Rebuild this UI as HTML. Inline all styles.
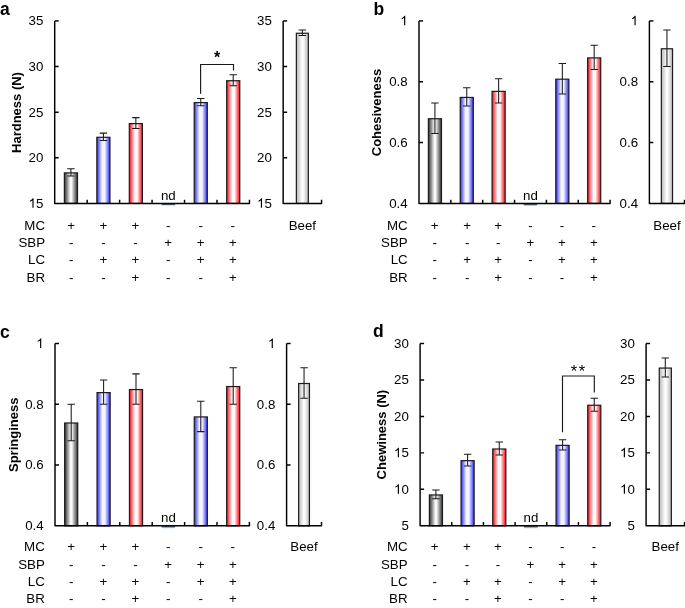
<!DOCTYPE html>
<html><head><meta charset="utf-8"><title>Texture profile</title>
<style>
html,body{margin:0;padding:0;background:#fff;}
body{width:685px;height:608px;overflow:hidden;}
svg{display:block;will-change:transform;}
text{font-family:"Liberation Sans", sans-serif;fill:#000;}
.tk{font-size:13.3px;}
.yl{font-size:13px;font-weight:bold;}
.let{font-size:17.5px;font-weight:bold;}
.ast{font-size:16px;font-weight:bold;}
.ast2{font-size:16.5px;}
.ax{fill:none;stroke:#000;stroke-width:1.45;stroke-linejoin:round;stroke-linecap:butt;}
.bar{stroke:#1c1c1c;stroke-width:1.2;}
.err{fill:none;stroke:#1a1a1a;stroke-width:1.05;}
.brk{fill:none;stroke:#1a1a1a;stroke-width:1.15;}
.ndl{stroke:#8fb4e0;stroke-width:0.9;}
.ndl2{stroke:#c8d4e0;stroke-width:0.9;}
.ndd{stroke:#1c2c44;stroke-width:0.9;}
</style></head>
<body>
<svg width="685" height="608" viewBox="0 0 685 608">
<defs>
<path id="one" d="M763 0L583 0L583 1147Q518 1085 411 1022Q304 959 219 928L219 1102Q370 1173 483 1274Q596 1375 643 1466L763 1466Z" fill="#000"/>
<linearGradient id="gk" x1="0" x2="1" y1="0" y2="0">
 <stop offset="0" stop-color="#2e2e2e"/><stop offset="0.1" stop-color="#5a5a5a"/><stop offset="0.45" stop-color="#f8f8f8"/>
 <stop offset="0.55" stop-color="#f8f8f8"/><stop offset="0.9" stop-color="#5a5a5a"/><stop offset="1" stop-color="#2e2e2e"/>
</linearGradient>
<linearGradient id="gb" x1="0" x2="1" y1="0" y2="0">
 <stop offset="0" stop-color="#3030c8"/><stop offset="0.1" stop-color="#5c5cff"/><stop offset="0.4" stop-color="#f5f5ff"/>
 <stop offset="0.6" stop-color="#f5f5ff"/><stop offset="0.9" stop-color="#5c5cff"/><stop offset="1" stop-color="#3030c8"/>
</linearGradient>
<linearGradient id="gr" x1="0" x2="1" y1="0" y2="0">
 <stop offset="0" stop-color="#d8202c"/><stop offset="0.1" stop-color="#ff3e4a"/><stop offset="0.42" stop-color="#fff8f8"/>
 <stop offset="0.6" stop-color="#fff8f8"/><stop offset="0.9" stop-color="#ff3e4a"/><stop offset="1" stop-color="#d8202c"/>
</linearGradient>
<linearGradient id="gg" x1="0" x2="1" y1="0" y2="0">
 <stop offset="0" stop-color="#bcbcbc"/><stop offset="0.12" stop-color="#c8c8c8"/><stop offset="0.45" stop-color="#fbfbfb"/>
 <stop offset="0.58" stop-color="#fbfbfb"/><stop offset="0.9" stop-color="#c6c6c6"/><stop offset="1" stop-color="#bcbcbc"/>
</linearGradient>
</defs>
<rect width="685" height="608" fill="#fff"/>
<text x="0" y="15" class="let">a</text>
<text transform="translate(20.75 112.5) rotate(-90)" x="0" y="0" class="yl" text-anchor="middle">Hardness (N)</text>
<text x="43.4" y="25.3" class="tk" text-anchor="end">35</text>
<text x="43.4" y="70.93" class="tk" text-anchor="end">30</text>
<text x="43.4" y="116.55" class="tk" text-anchor="end">25</text>
<text x="43.4" y="162.18" class="tk" text-anchor="end">20</text>
<text x="43.4" y="207.8" class="tk" text-anchor="end">5</text><use href="#one" transform="translate(28.61 207.8) scale(0.0064941 -0.0064941)"/>
<rect x="64.38" y="172.88" width="13.1" height="30.52" fill="url(#gk)" class="bar"/>
<path d="M70.93 168.73V176.03M67.23 168.73H74.63M67.23 176.03H74.63" class="err"/>
<rect x="96.84" y="137.29" width="13.1" height="66.11" fill="url(#gb)" class="bar"/>
<path d="M103.39 133.14V140.44M99.69 133.14H107.09M99.69 140.44H107.09" class="err"/>
<rect x="129.3" y="123.6" width="13.1" height="79.8" fill="url(#gr)" class="bar"/>
<path d="M135.85 117.62V128.58M132.15 117.62H139.55M132.15 128.58H139.55" class="err"/>
<path d="M161.7 205.3H174.9" class="ndl2"/>
<path d="M161.5 204.3H175.1" class="ndd"/>
<text x="168.3" y="199.8" class="tk" text-anchor="middle">nd</text>
<rect x="194.21" y="102.61" width="13.1" height="100.79" fill="url(#gb)" class="bar"/>
<path d="M200.76 98.46V105.76M197.06 98.46H204.46M197.06 105.76H204.46" class="err"/>
<rect x="226.67" y="80.71" width="13.1" height="122.69" fill="url(#gr)" class="bar"/>
<path d="M233.22 74.74V85.69M229.52 74.74H236.92M229.52 85.69H236.92" class="err"/>
<path d="M54.7 20.9 V203.4 H249.45 V199.7" class="ax"/>
<path d="M54.7 20.9 H58.7" class="ax"/>
<path d="M54.7 66.53H58.7M54.7 112.15H58.7M54.7 157.78H58.7M87.16 203.4V199.7M119.62 203.4V199.7M152.07 203.4V199.7M184.53 203.4V199.7M216.99 203.4V199.7" class="ax"/>
<text x="271.85" y="25.3" class="tk" text-anchor="end">35</text>
<text x="271.85" y="70.93" class="tk" text-anchor="end">30</text>
<text x="271.85" y="116.55" class="tk" text-anchor="end">25</text>
<text x="271.85" y="162.18" class="tk" text-anchor="end">20</text>
<text x="271.85" y="207.8" class="tk" text-anchor="end">5</text><use href="#one" transform="translate(257.06 207.8) scale(0.0064941 -0.0064941)"/>
<rect x="296.35" y="33.26" width="12" height="170.14" fill="url(#gg)" class="bar"/>
<path d="M302.35 30.03V35.5M298.65 30.03H306.05M298.65 35.5H306.05" class="err"/>
<path d="M283.15 20.9 V203.4 H321.55 V199.7" class="ax"/>
<path d="M283.15 20.9 H287.15" class="ax"/>
<path d="M283.15 66.53H287.15M283.15 112.15H287.15M283.15 157.78H287.15" class="ax"/>
<text x="302.35" y="229.6" class="tk" text-anchor="middle">Beef</text>
<path d="M200.6 93.8V64.5H233.5V70.6" class="brk"/>
<text x="217.05" y="63.4" class="ast" text-anchor="middle">*</text>
<text x="45" y="229.6" class="tk" text-anchor="end">MC</text>
<text x="71.1" y="229.6" class="tk" text-anchor="middle">+</text>
<text x="103.5" y="229.6" class="tk" text-anchor="middle">+</text>
<text x="135.5" y="229.6" class="tk" text-anchor="middle">+</text>
<text x="168.2" y="229.6" class="tk" text-anchor="middle">-</text>
<text x="200.6" y="229.6" class="tk" text-anchor="middle">-</text>
<text x="232.8" y="229.6" class="tk" text-anchor="middle">-</text>
<text x="45" y="246.8" class="tk" text-anchor="end">SBP</text>
<text x="71.1" y="246.8" class="tk" text-anchor="middle">-</text>
<text x="103.5" y="246.8" class="tk" text-anchor="middle">-</text>
<text x="135.5" y="246.8" class="tk" text-anchor="middle">-</text>
<text x="168.2" y="246.8" class="tk" text-anchor="middle">+</text>
<text x="200.6" y="246.8" class="tk" text-anchor="middle">+</text>
<text x="232.8" y="246.8" class="tk" text-anchor="middle">+</text>
<text x="45" y="263.9" class="tk" text-anchor="end">LC</text>
<text x="71.1" y="263.9" class="tk" text-anchor="middle">-</text>
<text x="103.5" y="263.9" class="tk" text-anchor="middle">+</text>
<text x="135.5" y="263.9" class="tk" text-anchor="middle">+</text>
<text x="168.2" y="263.9" class="tk" text-anchor="middle">-</text>
<text x="200.6" y="263.9" class="tk" text-anchor="middle">+</text>
<text x="232.8" y="263.9" class="tk" text-anchor="middle">+</text>
<text x="45" y="281.7" class="tk" text-anchor="end">BR</text>
<text x="71.1" y="281.7" class="tk" text-anchor="middle">-</text>
<text x="103.5" y="281.7" class="tk" text-anchor="middle">-</text>
<text x="135.5" y="281.7" class="tk" text-anchor="middle">+</text>
<text x="168.2" y="281.7" class="tk" text-anchor="middle">-</text>
<text x="200.6" y="281.7" class="tk" text-anchor="middle">-</text>
<text x="232.8" y="281.7" class="tk" text-anchor="middle">+</text>
<text x="373.5" y="14.6" class="let">b</text>
<text transform="translate(381.4 112.5) rotate(-90)" x="0" y="0" class="yl" text-anchor="middle">Cohesiveness</text>
<use href="#one" transform="translate(400.3 25.3) scale(0.0064941 -0.0064941)"/>
<text x="407.7" y="86.13" class="tk" text-anchor="end">0.8</text>
<text x="407.7" y="146.97" class="tk" text-anchor="end">0.6</text>
<text x="407.7" y="207.8" class="tk" text-anchor="end">0.4</text>
<rect x="428.38" y="118.73" width="13.1" height="84.67" fill="url(#gk)" class="bar"/>
<path d="M434.93 103.02V133.44M431.23 103.02H438.62M431.23 133.44H438.62" class="err"/>
<rect x="460.22" y="97.44" width="13.1" height="105.96" fill="url(#gb)" class="bar"/>
<path d="M466.77 87.82V106.07M463.07 87.82H470.47M463.07 106.07H470.47" class="err"/>
<rect x="492.07" y="91.36" width="13.1" height="112.04" fill="url(#gr)" class="bar"/>
<path d="M498.62 78.69V103.03M494.93 78.69H502.32M494.93 103.03H502.32" class="err"/>
<path d="M523.88 205.3H537.08" class="ndl"/>
<path d="M523.68 204.3H537.27" class="ndd"/>
<text x="530.48" y="199.8" class="tk" text-anchor="middle">nd</text>
<rect x="555.78" y="79.19" width="13.1" height="124.21" fill="url(#gb)" class="bar"/>
<path d="M562.33 63.48V93.9M558.62 63.48H566.03M558.62 93.9H566.03" class="err"/>
<rect x="587.63" y="57.9" width="13.1" height="145.5" fill="url(#gr)" class="bar"/>
<path d="M594.18 45.23V69.57M590.48 45.23H597.88M590.48 69.57H597.88" class="err"/>
<path d="M419 20.9 V203.4 H610.1 V199.7" class="ax"/>
<path d="M419 20.9 H423" class="ax"/>
<path d="M419 81.73H423M419 142.57H423M450.85 203.4V199.7M482.7 203.4V199.7M514.55 203.4V199.7M546.4 203.4V199.7M578.25 203.4V199.7" class="ax"/>
<use href="#one" transform="translate(630.7 25.3) scale(0.0064941 -0.0064941)"/>
<text x="638.1" y="86.13" class="tk" text-anchor="end">0.8</text>
<text x="638.1" y="146.97" class="tk" text-anchor="end">0.6</text>
<text x="638.1" y="207.8" class="tk" text-anchor="end">0.4</text>
<rect x="661.35" y="48.78" width="11.2" height="154.62" fill="url(#gg)" class="bar"/>
<path d="M666.95 30.03V66.52M663.25 30.03H670.65M663.25 66.52H670.65" class="err"/>
<path d="M649.4 20.9 V203.4 H684.5 V199.7" class="ax"/>
<path d="M649.4 20.9 H653.4" class="ax"/>
<path d="M649.4 81.73H653.4M649.4 142.57H653.4" class="ax"/>
<text x="666.95" y="229.6" class="tk" text-anchor="middle">Beef</text>
<text x="407.7" y="229.6" class="tk" text-anchor="end">MC</text>
<text x="434.7" y="229.6" class="tk" text-anchor="middle">+</text>
<text x="467.1" y="229.6" class="tk" text-anchor="middle">+</text>
<text x="498.2" y="229.6" class="tk" text-anchor="middle">+</text>
<text x="530.4" y="229.6" class="tk" text-anchor="middle">-</text>
<text x="561.9" y="229.6" class="tk" text-anchor="middle">-</text>
<text x="593.8" y="229.6" class="tk" text-anchor="middle">-</text>
<text x="407.7" y="246.8" class="tk" text-anchor="end">SBP</text>
<text x="434.7" y="246.8" class="tk" text-anchor="middle">-</text>
<text x="467.1" y="246.8" class="tk" text-anchor="middle">-</text>
<text x="498.2" y="246.8" class="tk" text-anchor="middle">-</text>
<text x="530.4" y="246.8" class="tk" text-anchor="middle">+</text>
<text x="561.9" y="246.8" class="tk" text-anchor="middle">+</text>
<text x="593.8" y="246.8" class="tk" text-anchor="middle">+</text>
<text x="407.7" y="263.9" class="tk" text-anchor="end">LC</text>
<text x="434.7" y="263.9" class="tk" text-anchor="middle">-</text>
<text x="467.1" y="263.9" class="tk" text-anchor="middle">+</text>
<text x="498.2" y="263.9" class="tk" text-anchor="middle">+</text>
<text x="530.4" y="263.9" class="tk" text-anchor="middle">-</text>
<text x="561.9" y="263.9" class="tk" text-anchor="middle">+</text>
<text x="593.8" y="263.9" class="tk" text-anchor="middle">+</text>
<text x="407.7" y="281.7" class="tk" text-anchor="end">BR</text>
<text x="434.7" y="281.7" class="tk" text-anchor="middle">-</text>
<text x="467.1" y="281.7" class="tk" text-anchor="middle">-</text>
<text x="498.2" y="281.7" class="tk" text-anchor="middle">+</text>
<text x="530.4" y="281.7" class="tk" text-anchor="middle">-</text>
<text x="561.9" y="281.7" class="tk" text-anchor="middle">-</text>
<text x="593.8" y="281.7" class="tk" text-anchor="middle">+</text>
<text x="0" y="337.8" class="let">c</text>
<text transform="translate(17.9 434.8) rotate(-90)" x="0" y="0" class="yl" text-anchor="middle">Springiness</text>
<use href="#one" transform="translate(36.3 347.9) scale(0.0064941 -0.0064941)"/>
<text x="43.7" y="408.67" class="tk" text-anchor="end">0.8</text>
<text x="43.7" y="469.43" class="tk" text-anchor="end">0.6</text>
<text x="43.7" y="530.2" class="tk" text-anchor="end">0.4</text>
<rect x="64.65" y="423" width="13.1" height="102.8" fill="url(#gk)" class="bar"/>
<path d="M71.2 404.27V440.73M67.5 404.27H74.9M67.5 440.73H74.9" class="err"/>
<rect x="97.05" y="392.61" width="13.1" height="133.19" fill="url(#gb)" class="bar"/>
<path d="M103.6 379.96V404.27M99.9 379.96H107.3M99.9 404.27H107.3" class="err"/>
<rect x="129.45" y="389.57" width="13.1" height="136.22" fill="url(#gr)" class="bar"/>
<path d="M136 373.88V404.27M132.3 373.88H139.7M132.3 404.27H139.7" class="err"/>
<path d="M161.8 527.7H175" class="ndl"/>
<path d="M161.6 526.7H175.2" class="ndd"/>
<text x="168.4" y="522.2" class="tk" text-anchor="middle">nd</text>
<rect x="194.25" y="416.92" width="13.1" height="108.88" fill="url(#gb)" class="bar"/>
<path d="M200.8 401.23V431.61M197.1 401.23H204.5M197.1 431.61H204.5" class="err"/>
<rect x="226.65" y="386.54" width="13.1" height="139.26" fill="url(#gr)" class="bar"/>
<path d="M233.2 367.81V404.27M229.5 367.81H236.9M229.5 404.27H236.9" class="err"/>
<path d="M55 343.5 V525.8 H249.4 V522.1" class="ax"/>
<path d="M55 343.5 H59" class="ax"/>
<path d="M55 404.27H59M55 465.03H59M87.4 525.8V522.1M119.8 525.8V522.1M152.2 525.8V522.1M184.6 525.8V522.1M217 525.8V522.1" class="ax"/>
<use href="#one" transform="translate(267.9 347.9) scale(0.0064941 -0.0064941)"/>
<text x="275.3" y="408.67" class="tk" text-anchor="end">0.8</text>
<text x="275.3" y="469.43" class="tk" text-anchor="end">0.6</text>
<text x="275.3" y="530.2" class="tk" text-anchor="end">0.4</text>
<rect x="298.65" y="383.5" width="10.8" height="142.3" fill="url(#gg)" class="bar"/>
<path d="M304.05 367.81V398.19M300.35 367.81H307.75M300.35 398.19H307.75" class="err"/>
<path d="M286.6 343.5 V525.8 H321.5 V522.1" class="ax"/>
<path d="M286.6 343.5 H290.6" class="ax"/>
<path d="M286.6 404.27H290.6M286.6 465.03H290.6" class="ax"/>
<text x="304.05" y="551.3" class="tk" text-anchor="middle">Beef</text>
<text x="44.8" y="551.3" class="tk" text-anchor="end">MC</text>
<text x="71.1" y="551.3" class="tk" text-anchor="middle">+</text>
<text x="103.5" y="551.3" class="tk" text-anchor="middle">+</text>
<text x="135.5" y="551.3" class="tk" text-anchor="middle">+</text>
<text x="168.2" y="551.3" class="tk" text-anchor="middle">-</text>
<text x="200.6" y="551.3" class="tk" text-anchor="middle">-</text>
<text x="232.8" y="551.3" class="tk" text-anchor="middle">-</text>
<text x="44.8" y="568.7" class="tk" text-anchor="end">SBP</text>
<text x="71.1" y="568.7" class="tk" text-anchor="middle">-</text>
<text x="103.5" y="568.7" class="tk" text-anchor="middle">-</text>
<text x="135.5" y="568.7" class="tk" text-anchor="middle">-</text>
<text x="168.2" y="568.7" class="tk" text-anchor="middle">+</text>
<text x="200.6" y="568.7" class="tk" text-anchor="middle">+</text>
<text x="232.8" y="568.7" class="tk" text-anchor="middle">+</text>
<text x="44.8" y="585.6" class="tk" text-anchor="end">LC</text>
<text x="71.1" y="585.6" class="tk" text-anchor="middle">-</text>
<text x="103.5" y="585.6" class="tk" text-anchor="middle">+</text>
<text x="135.5" y="585.6" class="tk" text-anchor="middle">+</text>
<text x="168.2" y="585.6" class="tk" text-anchor="middle">-</text>
<text x="200.6" y="585.6" class="tk" text-anchor="middle">+</text>
<text x="232.8" y="585.6" class="tk" text-anchor="middle">+</text>
<text x="44.8" y="603.3" class="tk" text-anchor="end">BR</text>
<text x="71.1" y="603.3" class="tk" text-anchor="middle">-</text>
<text x="103.5" y="603.3" class="tk" text-anchor="middle">-</text>
<text x="135.5" y="603.3" class="tk" text-anchor="middle">+</text>
<text x="168.2" y="603.3" class="tk" text-anchor="middle">-</text>
<text x="200.6" y="603.3" class="tk" text-anchor="middle">-</text>
<text x="232.8" y="603.3" class="tk" text-anchor="middle">+</text>
<text x="373" y="337.3" class="let">d</text>
<text transform="translate(386.3 434.6) rotate(-90)" x="0" y="0" class="yl" text-anchor="middle">Chewiness (N)</text>
<text x="408.8" y="347.9" class="tk" text-anchor="end">30</text>
<text x="408.8" y="384.36" class="tk" text-anchor="end">25</text>
<text x="408.8" y="420.82" class="tk" text-anchor="end">20</text>
<text x="408.8" y="457.28" class="tk" text-anchor="end">5</text><use href="#one" transform="translate(394.01 457.28) scale(0.0064941 -0.0064941)"/>
<text x="408.8" y="493.74" class="tk" text-anchor="end">0</text><use href="#one" transform="translate(394.01 493.74) scale(0.0064941 -0.0064941)"/>
<text x="408.8" y="530.2" class="tk" text-anchor="end">5</text>
<rect x="429.38" y="494.94" width="13.1" height="30.86" fill="url(#gk)" class="bar"/>
<path d="M435.93 490.07V498.82M432.23 490.07H439.63M432.23 498.82H439.63" class="err"/>
<rect x="461.05" y="460.67" width="13.1" height="65.13" fill="url(#gb)" class="bar"/>
<path d="M467.6 454.34V466.01M463.9 454.34H471.3M463.9 466.01H471.3" class="err"/>
<rect x="492.72" y="449" width="13.1" height="76.8" fill="url(#gr)" class="bar"/>
<path d="M499.27 441.94V455.07M495.57 441.94H502.97M495.57 455.07H502.97" class="err"/>
<path d="M524.33 527.7H537.53" class="ndl"/>
<path d="M524.13 526.7H537.73" class="ndd"/>
<text x="530.93" y="522.2" class="tk" text-anchor="middle">nd</text>
<rect x="556.05" y="445.36" width="13.1" height="80.44" fill="url(#gb)" class="bar"/>
<path d="M562.6 439.75V449.96M558.9 439.75H566.3M558.9 449.96H566.3" class="err"/>
<rect x="587.72" y="405.25" width="13.1" height="120.55" fill="url(#gr)" class="bar"/>
<path d="M594.27 398.19V411.32M590.57 398.19H597.97M590.57 411.32H597.97" class="err"/>
<path d="M420.1 343.5 V525.8 H610.1 V522.1" class="ax"/>
<path d="M420.1 343.5 H424.1" class="ax"/>
<path d="M420.1 379.96H424.1M420.1 416.42H424.1M420.1 452.88H424.1M420.1 489.34H424.1M451.77 525.8V522.1M483.43 525.8V522.1M515.1 525.8V522.1M546.77 525.8V522.1M578.43 525.8V522.1" class="ax"/>
<text x="634.8" y="347.9" class="tk" text-anchor="end">30</text>
<text x="634.8" y="384.36" class="tk" text-anchor="end">25</text>
<text x="634.8" y="420.82" class="tk" text-anchor="end">20</text>
<text x="634.8" y="457.28" class="tk" text-anchor="end">5</text><use href="#one" transform="translate(620.01 457.28) scale(0.0064941 -0.0064941)"/>
<text x="634.8" y="493.74" class="tk" text-anchor="end">0</text><use href="#one" transform="translate(620.01 493.74) scale(0.0064941 -0.0064941)"/>
<text x="634.8" y="530.2" class="tk" text-anchor="end">5</text>
<rect x="659.25" y="368.06" width="12.1" height="157.74" fill="url(#gg)" class="bar"/>
<path d="M665.3 358.08V377.04M661.6 358.08H669M661.6 377.04H669" class="err"/>
<path d="M646.1 343.5 V525.8 H684.5 V522.1" class="ax"/>
<path d="M646.1 343.5 H650.1" class="ax"/>
<path d="M646.1 379.96H650.1M646.1 416.42H650.1M646.1 452.88H650.1M646.1 489.34H650.1" class="ax"/>
<text x="665.3" y="551.3" class="tk" text-anchor="middle">Beef</text>
<path d="M562.5 432.3V376H594.3V392.4" class="brk"/>
<text x="573.9" y="376.5" class="ast2" text-anchor="middle">*</text>
<text x="582" y="376.5" class="ast2" text-anchor="middle">*</text>
<text x="407.6" y="551.3" class="tk" text-anchor="end">MC</text>
<text x="434.7" y="551.3" class="tk" text-anchor="middle">+</text>
<text x="467" y="551.3" class="tk" text-anchor="middle">+</text>
<text x="498" y="551.3" class="tk" text-anchor="middle">+</text>
<text x="530.4" y="551.3" class="tk" text-anchor="middle">-</text>
<text x="562.2" y="551.3" class="tk" text-anchor="middle">-</text>
<text x="594" y="551.3" class="tk" text-anchor="middle">-</text>
<text x="407.6" y="568.7" class="tk" text-anchor="end">SBP</text>
<text x="434.7" y="568.7" class="tk" text-anchor="middle">-</text>
<text x="467" y="568.7" class="tk" text-anchor="middle">-</text>
<text x="498" y="568.7" class="tk" text-anchor="middle">-</text>
<text x="530.4" y="568.7" class="tk" text-anchor="middle">+</text>
<text x="562.2" y="568.7" class="tk" text-anchor="middle">+</text>
<text x="594" y="568.7" class="tk" text-anchor="middle">+</text>
<text x="407.6" y="585.6" class="tk" text-anchor="end">LC</text>
<text x="434.7" y="585.6" class="tk" text-anchor="middle">-</text>
<text x="467" y="585.6" class="tk" text-anchor="middle">+</text>
<text x="498" y="585.6" class="tk" text-anchor="middle">+</text>
<text x="530.4" y="585.6" class="tk" text-anchor="middle">-</text>
<text x="562.2" y="585.6" class="tk" text-anchor="middle">+</text>
<text x="594" y="585.6" class="tk" text-anchor="middle">+</text>
<text x="407.6" y="603.3" class="tk" text-anchor="end">BR</text>
<text x="434.7" y="603.3" class="tk" text-anchor="middle">-</text>
<text x="467" y="603.3" class="tk" text-anchor="middle">-</text>
<text x="498" y="603.3" class="tk" text-anchor="middle">+</text>
<text x="530.4" y="603.3" class="tk" text-anchor="middle">-</text>
<text x="562.2" y="603.3" class="tk" text-anchor="middle">-</text>
<text x="594" y="603.3" class="tk" text-anchor="middle">+</text>
</svg>
</body></html>
